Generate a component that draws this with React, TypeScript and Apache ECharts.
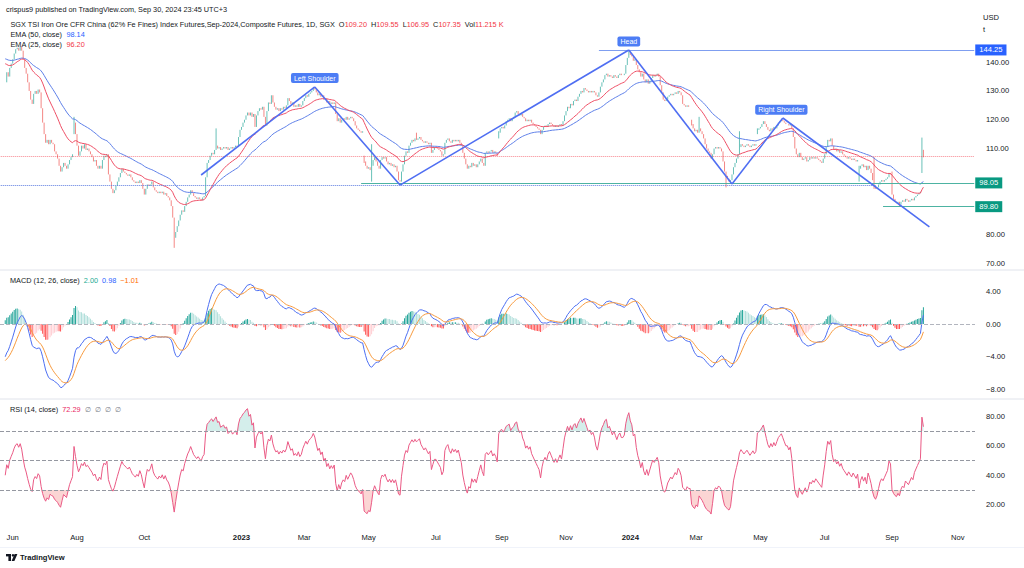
import React, { useEffect, useRef } from "react";
import * as echarts from "echarts";

const FONT = '"Liberation Sans", Arial, Helvetica, sans-serif';
const TEXT = "#131722";
const UP = "#26a69a";
const DOWN = "#ef5350";

const firstDate = "2022-05-20";
const categoryCount = 652;

// Daily closes (weekdays), one inner array per month
const closes2022: (number | null)[][] = [
  [null, null, null, 133, 136.5, 135, 138, 139.5], // May (from 20th)
  [141, 143, 144.5, 145, 144, 145.5, 144, 141, 138, 136, 133, 130, 127, 125.5, 129, 130, 129, 130.5, 129.5, 124, 119, 115],
  [112, 113, 111.5, 113, 112, 111.5, 109, 108, 106.5, 104, 102, 103.5, 105, 104, 103, 104.5, 106, 107, 108, 119, 115],
  [111, 107.5, 109, 111, 110, 111.5, 109.5, 110, 109, 108, 107, 105.5, 106, 104, 103, 104, 103, 106, 107.5, 107, 108, 101, 98.5],
  [96, 94.5, 95.5, 97, 98.5, 100, 101.5, 103, 102, 101.5, 101, 100.5, 101, 100, 99, 98.5, 98, 98.5, 98, 99, 98, 96],
  [94, 96, 97.5, 97, 97.5, 98.5, 96.5, 95.5, 95, 94.5, 95, 94.5, 95, 94, 94.5, 93.5, 93, 92, 90, 86, 79],
  [81, 83, 85, 87, 88.5, 88, 90, 91.5, 93, 94, 95.5, 94.5, 93.5, 93, 92.5, 93, 92.5, 92, 93, 93.5, 100, 105],
  [106, 107.5, 108.5, 108, 109.5, 111, 110, 110.5, 109.5, 110, 110.5, 110, 110.5, 109.5, 110, 110.5, 110, 110.5, 111, 110.5, 114, 116.5],
];
const closes2023: (number | null)[][] = [
  [117.5, 119, 120, 121.5, 122.5, 121.5, 122.5, 121, 122, 117.5, 121.5, 123, 124, 123.5, 124.5, 121, 118, 123, 126, 125.5, 128.5, 126],
  [124.5, 123.5, 124, 123, 124, 123.5, 124.5, 124, 125, 127.5, 126.5, 125.5, 126, 124.5, 125, 124.5, 125.5, 124.5, 125, 126.5],
  [127.5, 128.5, 128, 129, 129.5, 130, 131, 130.5, 129.5, 128.5, 129, 128, 128.5, 127, 127.5, 126, 126.5, 125.5, 126, 125.5, 126, 122, 119.5],
  [120.5, 119, 120, 120.5, 120, 121, 120, 120.5, 121, 120.5, 119.5, 118, 117, 116.5, 116, 115.5, 116, 105.5, 104, 103],
  [103.5, 102.5, 104, 106, 107, 105.5, 104, 103, 106, 107, 106.5, 107, 105.5, 104.5, 105, 104, 104.5, 103.5, 104, 102, 99, 98.5, 102],
  [104.5, 107.5, 109, 108.5, 111, 112, 113, 112.5, 113.5, 113, 113.5, 114, 113, 112.5, 112, 112.5, 112, 111.5, 112, 108.5, 109.5, 110.5],
  [110.5, 110, 109.5, 109, 107.5, 108, 112, 113, 113.5, 112.5, 112, 113, 112.5, 113, 112.5, 113, 112, 111, 108.5, 106.5, 104.5],
  [103, 104, 103.5, 105, 104, 104.5, 103.5, 104.5, 105.5, 106.5, 105, 104, 108.5, 109, 108.5, 109, 109.5, 108.5, 109, 108.5, 107.5, 115.5, 117],
  [117.5, 117, 118, 119.5, 120, 120.5, 119.5, 120.5, 121, 122.5, 123, 122, 121.5, 122, 121, 120.5, 119.5, 120, 119.5, 120, 119],
  [118.5, 118, 117.5, 117, 116.5, 115, 116.5, 117.5, 118, 117.5, 118.5, 119, 118.5, 118, 117.5, 118, 117.5, 118, 118.5, 118, 119.5, 121.5],
  [123, 124.5, 124, 125.5, 125, 126.5, 127, 126.5, 128, 129, 130, 129.5, 131, 130.5, 130, 129.5, 130, 129.5, 130, 129.5, 128.5, 128],
  [129.5, 131.5, 133, 134, 135.5, 136, 135, 135.5, 135, 134.5, 135.5, 135, 134.5, 135.5, 136, 135.5, 135.5, 136, 139, 141.5, 143.5],
];
const closes2024: (number | null)[][] = [
  [142.5, 142, 140.5, 141, 139, 137.5, 136.5, 135, 136, 134, 133, 134, 132.5, 133.5, 134.5, 135.5, 135, 135.5, 136, 135, 132, 129.5, 127],
  [126.5, 127, 128, 128.5, 129, 128.5, 129, 129.5, 129, 130, 129.5, 128.5, 125.5, 125, 124.5, 125, 124.5, 124.5, 118.5, 117, 116],
  [116.5, 115.5, 117, 116, 115, 113.5, 111.5, 110, 109, 108.5, 106.5, 108, 110, 110.5, 110, 110.5, 110, 109, 105.5, 102, 100.5],
  [99.5, 98.5, 99, 101, 103.5, 105, 106.5, 108, 110.5, 111.5, 111, 110.5, 111, 111.5, 111, 110.5, 111, 111.5, 111, 111.5, 116.5, 117],
  [117.5, 118.5, 119.5, 118.5, 117.5, 116.5, 116, 117, 116.5, 117.5, 117, 118, 119, 119.5, 120, 119.5, 119, 118.5, 118.5, 118, 118.5, 117, 114],
  [110, 108, 107, 108.5, 107, 106, 106.5, 107, 105.5, 106, 107, 106.5, 107, 106.5, 107, 106.5, 106, 105.5, 105, 106.5],
  [108, 110.5, 113, 112.5, 113.5, 111, 109.5, 110, 109, 109.5, 108.5, 109, 108, 107.5, 107, 106.5, 107, 106.5, 106, 106.5, 106, 105.5, 106],
  [103, 104, 104.5, 103.5, 104, 102.5, 104, 103, 101.5, 99, 97, 96, 96.5, 97.5, 98.5, 99, 98.5, 99, 99.5, 100, 101.5, 101],
  [94, 92.5, 91.5, 91, 91.5, 90.5, 91.5, 92, 91.5, 92.5, 92, 91.5, 92, 92.5, 92, 93, 93.5, 94, 94.5, 95, 109.4],
  [107.35],
];

// [date, open, high, low] for candles with visible gaps / wicks (null = from closes)
const candleOverrides: [string, number | null, number | null, number | null][] = [
  ["2022-07-28", 116, 121, 115],
  ["2022-10-31", null, null, 75.5],
  ["2022-12-08", null, 117, null],
  ["2023-04-26", 107, 107.5, 105],
  ["2023-05-03", null, 111.5, 98.5],
  ["2023-06-14", null, 115.5, null],
  ["2023-08-30", 114, 116, 113.5],
  ["2023-12-29", null, 144.25, null],
  ["2024-02-27", 119.5, 120, 118],
  ["2024-03-05", null, 121, null],
  ["2024-03-29", null, null, 96.5],
  ["2024-04-11", null, 116, null],
  ["2024-04-29", 115.5, 117, 115],
  ["2024-08-01", 100, 104, 98.5],
  ["2024-08-15", null, 107, 96],
  ["2024-09-02", null, 102, null],
  ["2024-09-09", null, null, 89.8],
  ["2024-09-30", 102.5, 113.8, 101.5],
  ["2024-10-01", 109.2, 109.55, 106.95],
];

const ema50Seed = 141.5;
const ema25Seed = 140;
const ema12Seed = 134.5;
const ema26Seed = 138.7;
const signalSeed = -4.6;
const rsiGainSeed = 0.8;
const rsiLossSeed = 1.2;

const timeTickDates = ["2022-06-01", "2022-08-01", "2022-10-03", "2023-01-02", "2023-03-01", "2023-05-01", "2023-07-03", "2023-09-01", "2023-11-01", "2024-01-01", "2024-03-01", "2024-05-01", "2024-07-01", "2024-09-02", "2024-11-01"];
const timeTickLabels = ["Jun", "Aug", "Oct", "2023", "Mar", "May", "Jul", "Sep", "Nov", "2024", "Mar", "May", "Jul", "Sep", "Nov"];
// 90 and 100 sit under the 89.80 / 98.05 boxes in the reference
const priceTicks = [70, 80, 110, 120, 130, 140];
const macdTicks = [-8, -4, 0, 4];
const rsiTicks = [20, 40, 60, 80];
const rsiBands = [70, 50, 30];

const levelLines: [string, number, string][] = [
  ["2023-12-01", 144.25, "144.25"],
  ["2023-04-24", 98.05, "98.05"],
  ["2024-08-23", 89.8, "89.80"],
];
const dottedLevel = 97.07;
const dottedLevelEnd = "2024-08-16";
const lastClose = 107.35;
const patternPoints: [string, number][] = [
  ["2022-11-24", 100.8],
  ["2023-03-10", 131.4],
  ["2023-05-30", 97.3],
  ["2023-12-29", 144.25],
  ["2024-04-04", 97.7],
  ["2024-05-22", 120.6],
  ["2024-10-07", 82.8],
];
const patternLabels: [string, string, number][] = [
  ["Left Shoulder", "2023-03-10", 134.5],
  ["Head", "2023-12-29", 147.2],
  ["Right Shoulder", "2024-05-21", 123.5],
];
const ohlcLegend = ["109.20", "109.55", "106.95", "107.35"];
const volLegend = "11.215 K";
const emaLegend = ["98.14", "96.20"];
const macdLegend = ["2.00", "0.98", "\u22121.01"];
const rsiLegend = "72.29";

function weekdays(start: string, count: number): string[] {
  const out: string[] = [];
  const d = new Date(start + "T00:00:00Z");
  while (out.length < count) {
    const w = d.getUTCDay();
    if (w !== 0 && w !== 6) out.push(d.toISOString().slice(0, 10));
    d.setUTCDate(d.getUTCDate() + 1);
  }
  return out;
}

function buildOption() {
  const dates = weekdays(firstDate, categoryCount);
  const idx = (d: string) => dates.indexOf(d);
  const byMonth = new Map<string, (number | null)[]>();
  const blocks: [number, number, (number | null)[][]][] = [
    [2022, 5, closes2022],
    [2023, 1, closes2023],
    [2024, 1, closes2024],
  ];
  blocks.forEach(([y, m0, arr]) =>
    arr.forEach((m, i) => byMonth.set(`${y}-${String(m0 + i).padStart(2, "0")}`, m))
  );
  const counter = new Map<string, number>();
  const closes: (number | null)[] = dates.map((d) => {
    const key = d.slice(0, 7);
    const k = counter.get(key) ?? 0;
    counter.set(key, k + 1);
    const arr = byMonth.get(key);
    return arr && k < arr.length ? arr[k] : null;
  });
  let lastIdx = 0;
  closes.forEach((c, i) => { if (c != null) lastIdx = i; });
  const n = lastIdx + 1;

  const ov = new Map(candleOverrides.map((r) => [r[0], r]));
  const candles: any[] = [];
  let prev: number | null = null;
  for (let i = 0; i < n; i++) {
    const c = closes[i];
    if (c == null) { candles.push("-"); continue; }
    const r = ov.get(dates[i]);
    const o = r && r[1] != null ? r[1] : prev ?? c;
    let h = Math.max(o, c);
    let l = Math.min(o, c);
    if (r && r[2] != null) h = Math.max(h, r[2]);
    if (r && r[3] != null) l = Math.min(l, r[3]);
    candles.push([o, c, l, h]);
    prev = c;
  }

  const ema = (vals: (number | null)[], len: number, seed: number) => {
    const k = 2 / (len + 1);
    let e = seed;
    return vals.map((v) => {
      if (v == null) return null;
      e = v * k + e * (1 - k);
      return e;
    });
  };
  const cl = closes.slice(0, n);
  const e50 = ema(cl, 50, ema50Seed);
  const e25 = ema(cl, 25, ema25Seed);
  const e12 = ema(cl, 12, ema12Seed);
  const e26 = ema(cl, 26, ema26Seed);
  const macd = e12.map((v, i) => (v == null || e26[i] == null ? null : v - (e26[i] as number)));
  const sig = ema(macd, 9, signalSeed);
  const hist = macd.map((v, i) => (v == null || sig[i] == null ? null : v - (sig[i] as number)));

  let ag = rsiGainSeed, al = rsiLossSeed;
  let pc: number | null = null;
  const rsi = cl.map((c) => {
    if (c == null) return null;
    if (pc != null) {
      const ch = c - pc;
      ag = (ag * 13 + Math.max(ch, 0)) / 14;
      al = (al * 13 + Math.max(-ch, 0)) / 14;
    }
    pc = c;
    return 100 - 100 / (1 + ag / al);
  });

  const dash = (a: (number | null)[]) => a.map((v) => (v == null ? "-" : +v.toFixed(3)));
  const histData = hist.map((v, i) => {
    if (v == null) return "-";
    const p = i > 0 && hist[i - 1] != null ? (hist[i - 1] as number) : v;
    let color;
    if (v >= 0) color = v >= p ? "#26a69a" : "#b2dfdb";
    else color = v > p ? "#ffcdd2" : "#ff5252";
    return { value: +v.toFixed(3), itemStyle: { color } };
  });

  const obBase = rsi.map((v) => (v == null ? "-" : 70));
  const obTop = rsi.map((v) => (v == null ? "-" : Math.max(v - 70, 0)));
  const osBase = rsi.map((v) => (v == null ? "-" : Math.min(v, 30)));
  const osTop = rsi.map((v) => (v == null ? "-" : 30 - Math.min(v, 30)));

  const tickMap = new Map(timeTickDates.map((d, i) => [d, timeTickLabels[i]]));
  const lastCat = categoryCount - 1;

  const xBase = {
    type: "category",
    data: dates,
    boundaryGap: true,
    axisLine: { show: false },
    axisTick: { show: false },
    splitLine: { show: false },
    axisPointer: { show: false },
  };
  const yBase = {
    type: "value",
    position: "right",
    splitLine: { show: false },
    axisLine: { show: false },
    axisTick: { show: false },
  };
  const lbl = { color: TEXT, fontSize: 7.6, fontFamily: FONT, margin: 11 };

  const trendData = patternPoints.slice(1).map((p, k) => [
    { coord: [idx(patternPoints[k][0]), patternPoints[k][1]], lineStyle: { color: "#4f6ef2", width: 1.6, type: "solid" }, label: { show: false } },
    { coord: [idx(p[0]), p[1]] },
  ]);
  const levelData = levelLines.map(([d, v, txt], k) => [
    {
      coord: [idx(d), v],
      lineStyle: { color: k === 0 ? "#7f9ef0" : "#4db3a2", width: 1, type: "solid" },
      label: {
        show: true, position: "end", formatter: txt, color: "#fff",
        backgroundColor: k === 0 ? "#2962ff" : "#089981",
        padding: [2, 4, 1, 4], fontSize: 7.6, fontFamily: FONT, distance: 1,
      },
    },
    { coord: [lastCat, v] },
  ]);

  const legend = (x: number, y: number, text: string, rich: any) => ({
    type: "text", x, y, silent: true,
    style: { text, rich, verticalAlign: "middle", fontSize: 7.3, fontFamily: FONT, fill: TEXT },
  });
  const rs = (fill: string) => ({ fill, color: fill, fontSize: 7.3, fontFamily: FONT });

  return {
    animation: false,
    backgroundColor: "#ffffff",
    grid: [
      { left: 0, right: 49, top: 10, height: 259 },
      { left: 0, right: 49, top: 271, height: 127 },
      { left: 0, right: 49, top: 400, height: 125 },
    ],
    xAxis: [
      { ...xBase, gridIndex: 0, axisLabel: { show: false } },
      { ...xBase, gridIndex: 1, axisLabel: { show: false } },
      {
        ...xBase, gridIndex: 2,
        axisLabel: {
          show: true,
          interval: (_i: number, v: string) => tickMap.has(v),
          formatter: (v: string) => {
            const t = tickMap.get(v) || "";
            return /^\d{4}$/.test(t) ? `{y|${t}}` : t;
          },
          color: TEXT, fontSize: 7.6, fontFamily: FONT, margin: 8, hideOverlap: false,
          rich: { y: { fontWeight: "bold", fontSize: 7.8, color: TEXT, fontFamily: FONT } },
        },
      },
    ],
    yAxis: [
      { ...yBase, gridIndex: 0, min: 68.14, max: 158.13, axisLabel: { ...lbl, customValues: priceTicks, formatter: (v: number) => v.toFixed(2) } },
      { ...yBase, gridIndex: 1, min: -9.057, max: 6.487, axisLabel: { ...lbl, customValues: macdTicks, formatter: (v: number) => (v < 0 ? "\u2212" + Math.abs(v).toFixed(2) : v.toFixed(2)) } },
      { ...yBase, gridIndex: 2, min: 6.27, max: 91.02, axisLabel: { ...lbl, customValues: rsiTicks, formatter: (v: number) => v.toFixed(2) } },
    ],
    series: [
      {
        type: "candlestick", name: "price", xAxisIndex: 0, yAxisIndex: 0, data: candles,
        barWidth: 1.1,
        itemStyle: { color: UP, color0: DOWN, borderColor: UP, borderColor0: DOWN, borderWidth: 0.7 },
        markLine: {
          silent: true, symbol: ["none", "none"], animation: false,
          data: [
            [{ coord: [0, dottedLevel], lineStyle: { color: "#5b7be0", type: "dotted", width: 1 }, label: { show: false } }, { coord: [idx(dottedLevelEnd), dottedLevel] }],
            [{ coord: [0, lastClose], lineStyle: { color: "#f23645", type: "dotted", width: 1, opacity: 0.6 }, label: { show: false } }, { coord: [lastCat, lastClose] }],
            ...levelData,
            ...trendData,
          ],
        },
        markPoint: {
          silent: true, animation: false, symbol: "rect", symbolSize: 1,
          itemStyle: { color: "rgba(0,0,0,0)" },
          data: patternLabels.map(([t, d, v]) => ({
            coord: [idx(d), v],
            label: {
              show: true, position: "inside", formatter: t, color: "#fff",
              backgroundColor: "#4d7df5", borderRadius: 2, padding: [2, 3, 1, 3],
              fontSize: 7, fontFamily: FONT,
            },
          })),
        },
      },
      { type: "line", name: "EMA50", xAxisIndex: 0, yAxisIndex: 0, data: dash(e50), symbol: "none", lineStyle: { color: "#5d7fe8", width: 1 } },
      { type: "line", name: "EMA25", xAxisIndex: 0, yAxisIndex: 0, data: dash(e25), symbol: "none", lineStyle: { color: "#ee4f66", width: 1 } },
      {
        type: "bar", name: "hist", xAxisIndex: 1, yAxisIndex: 1, data: histData, barWidth: 1,
        markLine: { silent: true, symbol: ["none", "none"], data: [{ yAxis: 0 }], lineStyle: { color: "#b2b5be", type: "dashed", width: 1 }, label: { show: false } },
      },
      { type: "line", name: "MACD", xAxisIndex: 1, yAxisIndex: 1, data: dash(macd), symbol: "none", lineStyle: { color: "#4d6ff2", width: 1 } },
      { type: "line", name: "Signal", xAxisIndex: 1, yAxisIndex: 1, data: dash(sig), symbol: "none", lineStyle: { color: "#f79a3e", width: 1 } },
      { type: "line", xAxisIndex: 2, yAxisIndex: 2, data: obBase, stack: "ob", symbol: "none", lineStyle: { opacity: 0 }, silent: true },
      { type: "line", xAxisIndex: 2, yAxisIndex: 2, data: obTop, stack: "ob", symbol: "none", lineStyle: { opacity: 0 }, areaStyle: { color: "rgba(38,166,154,0.28)" }, silent: true },
      { type: "line", xAxisIndex: 2, yAxisIndex: 2, data: osBase, stack: "os", symbol: "none", lineStyle: { opacity: 0 }, silent: true },
      { type: "line", xAxisIndex: 2, yAxisIndex: 2, data: osTop, stack: "os", symbol: "none", lineStyle: { opacity: 0 }, areaStyle: { color: "rgba(239,83,80,0.35)" }, silent: true },
      {
        type: "line", name: "RSI", xAxisIndex: 2, yAxisIndex: 2, data: dash(rsi), symbol: "none",
        lineStyle: { color: "#ea5a85", width: 1 },
        markLine: {
          silent: true, symbol: ["none", "none"],
          data: rsiBands.map((v) => ({ yAxis: v })),
          lineStyle: { color: "#9598a1", type: "dashed", width: 1 }, label: { show: false },
        },
      },
    ],
    graphic: [
      { type: "line", silent: true, shape: { x1: 0, y1: 270, x2: 1024, y2: 270 }, style: { stroke: "#e0e3eb", lineWidth: 1 } },
      { type: "line", silent: true, shape: { x1: 0, y1: 399, x2: 1024, y2: 399 }, style: { stroke: "#e0e3eb", lineWidth: 1 } },
      { type: "line", silent: true, shape: { x1: 0, y1: 547.5, x2: 1024, y2: 547.5 }, style: { stroke: "#f0f3fa", lineWidth: 1 } },
      legend(6, 9, "crispus9 published on TradingView.com, Sep 30, 2024 23:45 UTC+3", {}),
      legend(
        10.5, 24,
        `{t|SGX TSI Iron Ore CFR China (62% Fe Fines) Index Futures,Sep-2024,Composite Futures, 1D, SGX  O}{r|${ohlcLegend[0]}}{t|  H}{r|${ohlcLegend[1]}}{t|  L}{r|${ohlcLegend[2]}}{t|  C}{r|${ohlcLegend[3]}}{t|  Vol}{r|${volLegend}}`,
        { t: rs(TEXT), r: rs("#f23645") }
      ),
      legend(10.5, 34.5, `{t|EMA (50, close)  }{b|${emaLegend[0]}}`, { t: rs(TEXT), b: rs("#2962ff") }),
      legend(10.5, 44, `{t|EMA (25, close)  }{r|${emaLegend[1]}}`, { t: rs(TEXT), r: rs("#f23645") }),
      legend(10, 280.5, `{t|MACD (12, 26, close)  }{g|${macdLegend[0]}}{t|  }{b|${macdLegend[1]}}{t|  }{o|${macdLegend[2]}}`, { t: rs(TEXT), g: rs("#22ab94"), b: rs("#2962ff"), o: rs("#ff6d00") }),
      legend(10, 409, `{t|RSI (14, close)  }{p|${rsiLegend}}{t|  }{n|\u2205  \u2205  \u2205  \u2205}`, { t: rs(TEXT), p: rs("#e91e63"), n: rs("#787b86") }),
      { type: "text", x: 983, y: 17, silent: true, style: { text: "USD", fill: TEXT, fontSize: 7.6, fontFamily: FONT, verticalAlign: "middle" } },
      { type: "text", x: 983, y: 29, silent: true, style: { text: "t", fill: TEXT, fontSize: 7.6, fontFamily: FONT, verticalAlign: "middle" } },
      { type: "rect", silent: true, shape: { x: 6, y: 554, width: 5, height: 2.4 }, style: { fill: TEXT } },
      { type: "rect", silent: true, shape: { x: 8.4, y: 554, width: 2.6, height: 7 }, style: { fill: TEXT } },
      { type: "circle", silent: true, shape: { cx: 13, cy: 555.3, r: 1.3 }, style: { fill: TEXT } },
      { type: "polygon", silent: true, shape: { points: [[14.6, 554], [17.4, 554], [14.4, 561], [11.6, 561]] }, style: { fill: TEXT } },
      { type: "text", x: 20, y: 557.5, silent: true, style: { text: "TradingView", fill: TEXT, fontSize: 7.6, fontWeight: "bold", fontFamily: FONT, verticalAlign: "middle" } },
    ],
  };
}

export default function App() {
  const ref = useRef<HTMLDivElement>(null);
  useEffect(() => {
    const el = ref.current;
    if (!el) return;
    const chart = echarts.init(el, null, { renderer: "svg" });
    chart.setOption(buildOption() as any);
    return () => chart.dispose();
  }, []);
  return (
    <div
      ref={ref}
      style={{ position: "fixed", left: 0, top: 0, width: 1024, height: 568, background: "#fff" }}
    />
  );
}
